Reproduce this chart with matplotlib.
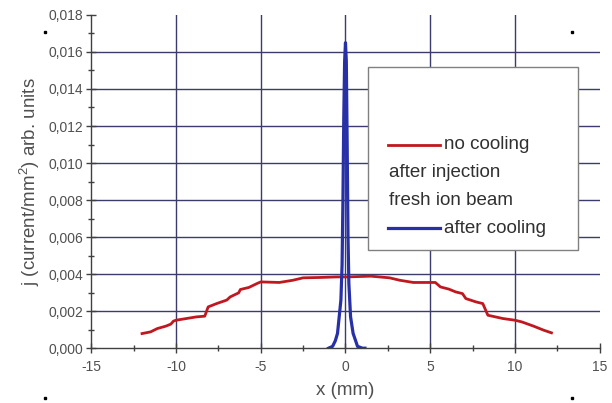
import numpy as np
import matplotlib
matplotlib.use("Agg")
import matplotlib.pyplot as plt
from matplotlib.patches import Rectangle
from matplotlib.lines import Line2D
from matplotlib.ticker import MultipleLocator, FuncFormatter

plt.rcParams['font.family'] = ['Liberation Sans', 'DejaVu Sans']
plt.rcParams['mathtext.default'] = 'regular'

# no cooling, after injection (fresh ion beam)
x_hot = [-12.0, -11.5, -11.1, -10.6, -10.3, -10.15, -10.0, -9.4, -8.8, -8.3,
         -8.1, -7.6, -7.0, -6.8, -6.3, -6.2, -5.7, -5.2, -5.0, -3.9,
         -3.1, -2.5, -1.5, -0.5, 0.1, 1.5, 2.6, 3.2, 4.0, 5.3,
         5.6, 6.1, 6.5, 6.9, 7.1, 7.7, 8.1, 8.4, 9.3, 10.0,
         10.4, 11.1, 11.7, 12.15]
j_hot = [0.00079, 0.00088, 0.00106, 0.00119, 0.00130, 0.00146, 0.00151, 0.00160, 0.00169, 0.00173,
         0.00223, 0.00241, 0.00260, 0.00277, 0.00299, 0.00317, 0.00328, 0.00350, 0.00358, 0.00355,
         0.00367, 0.00380, 0.00382, 0.00385, 0.00385, 0.00389, 0.00380, 0.00367, 0.00355, 0.00355,
         0.00331, 0.00319, 0.00304, 0.00295, 0.00268, 0.00250, 0.00241, 0.00178, 0.00160, 0.00151,
         0.00142, 0.00119, 0.00097, 0.00083]

# after cooling
x_cool = [-1.0, -0.76, -0.6, -0.47, -0.37, -0.27, -0.2, -0.15, -0.1, -0.05, 0.0,
          0.05, 0.1, 0.15, 0.2, 0.3, 0.45, 0.6, 0.71, 1.0, 1.15]
j_cool = [0.0, 0.0001, 0.0004, 0.0008, 0.0017, 0.0026, 0.0045, 0.0080, 0.0125, 0.0155, 0.0165,
          0.0155, 0.0110, 0.0060, 0.0035, 0.0017, 0.0008, 0.0004, 0.0001, 0.0, 0.0]

legend_labels = ["no cooling", "after injection", "fresh ion beam", "after cooling"]
x_grid = [-10, -5, 0, 5, 10]
y_grid = [0.002, 0.004, 0.006, 0.008, 0.010, 0.012, 0.014, 0.016]

red = '#c01820'
blue = '#2830a8'
grid_c = '#3c3c6c'
txt_c = '#505050'

fig = plt.figure(figsize=(6.12, 4.03), dpi=100)
ax = fig.add_axes([0.149, 0.136, 0.831, 0.827])

for gx in x_grid:
    ax.axvline(gx, color=grid_c, lw=1.0, zorder=1)
for gy in y_grid:
    ax.axhline(gy, color=grid_c, lw=1.0, zorder=1)

ax.plot(x_hot, j_hot, color=red, lw=2.0, zorder=3)
ax.plot(x_cool, j_cool, color=blue, lw=2.3, zorder=4)

ax.set_xlim(-15, 15)
ax.set_ylim(0, 0.018)
ax.xaxis.set_major_locator(MultipleLocator(5))
ax.xaxis.set_minor_locator(MultipleLocator(2.5))
ax.yaxis.set_major_locator(MultipleLocator(0.002))
ax.yaxis.set_minor_locator(MultipleLocator(0.001))
ax.yaxis.set_major_formatter(FuncFormatter(lambda v, p: f"{v:.3f}".replace('.', ',')))
ax.xaxis.set_major_formatter(FuncFormatter(lambda v, p: f"{v:.0f}"))

for s in ['top', 'right']:
    ax.spines[s].set_visible(False)
for s in ['left', 'bottom']:
    ax.spines[s].set_color('#404040')
    ax.spines[s].set_linewidth(1.0)

ax.tick_params(which='major', direction='inout', length=7, width=1.0, color='#404040',
               labelsize=10, labelcolor=txt_c, pad=2)
ax.tick_params(axis='x', which='major', pad=5)
ax.tick_params(which='minor', direction='inout', length=4, width=1.0, color='#404040')

ax.set_xlabel("x (mm)", fontsize=13.5, color=txt_c, labelpad=6)
ax.set_ylabel("j (current/mm$^2$) arb. units", fontsize=13.5, color=txt_c, labelpad=5)

# legend box drawn by hand to keep the original layout
ax.add_patch(Rectangle((0.544, 0.294), 0.413, 0.55, transform=ax.transAxes,
                       facecolor='white', edgecolor='#808080', lw=1.0, zorder=5))
ax.add_line(Line2D([0.583, 0.686], [0.610, 0.610], transform=ax.transAxes,
                   color=red, lw=2.0, zorder=6))
ax.add_line(Line2D([0.583, 0.686], [0.360, 0.360], transform=ax.transAxes,
                   color=blue, lw=2.3, zorder=6))
kw = dict(transform=ax.transAxes, fontsize=13.5, color='#303030', va='center', zorder=7)
ax.text(0.693, 0.610, legend_labels[0], **kw)
ax.text(0.585, 0.526, legend_labels[1], **kw)
ax.text(0.585, 0.444, legend_labels[2], **kw)
ax.text(0.693, 0.360, legend_labels[3], **kw)

# corner marks of the scan
for fx, fy in [(0.073, 0.92), (0.935, 0.92), (0.073, 0.012), (0.935, 0.012)]:
    fig.add_artist(Line2D([fx], [fy], marker='s', ms=1.5, color='black'))

fig.savefig("out.png", dpi=100)
